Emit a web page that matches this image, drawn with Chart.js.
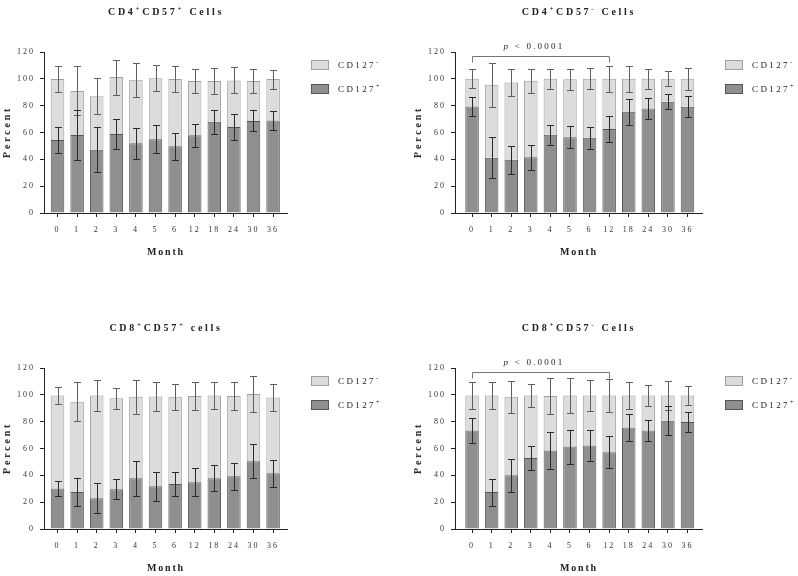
<!DOCTYPE html>
<html><head><meta charset="utf-8">
<script src="https://cdn.jsdelivr.net/npm/chart.js@4/dist/chart.umd.min.js"></script>
<style>
html,body{margin:0;padding:0;background:#fff;}
body{width:798px;height:576px;position:relative;overflow:hidden;font-family:"Liberation Serif",serif;color:#222;}
.panel{position:absolute;width:387px;height:288px;}
.panel canvas{position:absolute;left:0;top:0;}
.t{position:absolute;white-space:nowrap;line-height:1;will-change:transform;}
.title{font-weight:bold;font-size:10px;letter-spacing:2.7px;transform:translate(-50%,-50%);}
.ylab{font-weight:bold;font-size:10px;letter-spacing:2.8px;transform:translate(-50%,-50%) rotate(-90deg);}
.xlab{font-weight:bold;font-size:10px;letter-spacing:1.8px;transform:translate(-50%,-50%);}
.leg{font-size:9px;letter-spacing:2.4px;transform:translateY(-50%);}
.box{position:absolute;width:16px;height:8px;}
.pv{font-size:9px;letter-spacing:2.2px;transform:translate(-50%,-50%);}
sup{font-size:70%;vertical-align:super;line-height:0;}
</style></head>
<body>
<script>
// ---- data ----
const months = ['0','1','2','3','4','5','6','12','18','24','30','36'];
const yTicks = [0,20,40,60,80,100,120];

// CD4+CD57+ Cells
const cd4p_pos    = [54.4,58.1,47.2,58.9,51.9,54.9,49.7,57.9,68.1,64.1,68.6,68.9];
const cd4p_posErr = [9.7,18.6,16.7,11.5,11.5,10.4,9.9,8.8,9.0,9.9,7.8,7.2];
const cd4p_neg    = [45.4,32.9,39.8,42.4,47.4,45.6,50.1,40.4,30.2,34.7,29.7,30.9];
const cd4p_negErr = [9.8,18.3,13.4,13.0,12.5,9.5,9.6,8.8,9.6,9.7,8.8,7.1];

// CD4+CD57- Cells
const cd4n_pos    = [79.4,41.1,39.6,41.6,58.3,56.5,56.0,62.7,75.4,77.9,82.9,79.2];
const cd4n_posErr = [7.2,15.3,10.5,9.4,7.5,8.3,8.0,9.6,9.8,7.8,5.5,7.8];
const cd4n_neg    = [20.6,54.5,57.7,57.0,41.7,43.1,44.0,37.3,24.6,22.1,17.1,20.8];
const cd4n_negErr = [7.2,16.3,10.2,9.0,7.6,8.0,7.8,9.5,9.5,7.5,5.7,8.0];

// CD8+CD57+ cells
const cd8p_pos    = [30.2,27.5,23.0,29.7,37.9,31.9,33.6,34.9,37.9,39.3,50.5,41.6];
const cd8p_posErr = [5.8,10.7,11.4,7.3,13.0,10.8,9.2,10.2,9.8,10.0,12.5,10.0];
const cd8p_neg    = [69.3,67.3,76.5,67.8,60.6,66.8,64.9,64.3,61.6,59.9,50.2,56.4];
const cd8p_negErr = [6.0,14.5,11.4,7.7,12.9,10.9,9.9,10.4,9.9,10.4,13.4,9.9];

// CD8+CD57- Cells
const cd8n_pos    = [73.5,27.5,40.1,52.9,58.6,61.4,62.3,57.2,75.7,73.5,80.7,79.7];
const cd8n_posErr = [9.6,10.0,12.2,9.2,13.6,12.7,11.8,11.9,10.0,7.9,10.8,7.3];
const cd8n_neg    = [26.0,72.0,58.4,46.6,40.6,38.1,37.2,42.3,23.8,26.0,18.8,19.8];
const cd8n_negErr = [9.9,9.9,11.7,8.8,13.7,12.9,11.5,12.0,10.4,7.9,11.0,7.3];

const bracketFrom = 0, bracketTo = 7, bracketY = 117.3, bracketDrop = 4.5;
const pText = 'p';

// ---- layout ----
const panels = [
  {ox:0,   oy:0,   title:'CD4<sup>+</sup>CD57<sup>+</sup> Cells', pos:cd4p_pos, posErr:cd4p_posErr, neg:cd4p_neg, negErr:cd4p_negErr, right:287, xmin:-0.69, xmax:11.71, bracket:false, legX:311},
  {ox:411, oy:0,   title:'CD4<sup>+</sup>CD57<sup>-</sup> Cells', pos:cd4n_pos, posErr:cd4n_posErr, neg:cd4n_neg, negErr:cd4n_negErr, right:291, xmin:-0.87, xmax:11.74, bracket:true, legX:314},
  {ox:0,   oy:316, title:'CD8<sup>+</sup>CD57<sup>+</sup> cells', pos:cd8p_pos, posErr:cd8p_posErr, neg:cd8p_neg, negErr:cd8p_negErr, right:287, xmin:-0.69, xmax:11.71, bracket:false, legX:311},
  {ox:411, oy:316, title:'CD8<sup>+</sup>CD57<sup>-</sup> Cells', pos:cd8n_pos, posErr:cd8n_posErr, neg:cd8n_neg, negErr:cd8n_negErr, right:291, xmin:-0.87, xmax:11.74, bracket:true, legX:314}
];

const DARK='#8f8f8f', DARKB='#555555', LIGHT='#dcdcdc', LIGHTB='#a0a0a0';
const FONT='"Liberation Serif", serif';

function addText(parent, cls, html, x, y){
  const d=document.createElement('div'); d.className='t '+cls; d.innerHTML=html;
  d.style.left=x+'px'; d.style.top=y+'px'; parent.appendChild(d); return d;
}

const spacing = {id:'ls',
  beforeUpdate(c){c.ctx.letterSpacing='2px';},
  beforeDraw(c){c.ctx.letterSpacing='2px';}
};

function errPlugin(p){
  return {id:'err', afterDatasetsDraw(chart){
    const ctx=chart.ctx, ys=chart.scales.y, m0=chart.getDatasetMeta(0);
    ctx.save(); ctx.letterSpacing='0px'; ctx.lineWidth=1;
    const bar=(x,v,e,col)=>{
      const X=Math.round(x)+0.5, t=Math.round(ys.getPixelForValue(v+e))+0.5, b=Math.round(ys.getPixelForValue(v-e))+0.5;
      ctx.strokeStyle=col; ctx.beginPath();
      ctx.moveTo(X,t); ctx.lineTo(X,b);
      ctx.moveTo(X-3.5,t); ctx.lineTo(X+3.5,t);
      ctx.moveTo(X-3.5,b); ctx.lineTo(X+3.5,b);
      ctx.stroke();
    };
    for(let i=0;i<months.length;i++){
      const x=m0.data[i].x;
      bar(x, p.pos[i]+p.neg[i], p.negErr[i], '#5e5e5e');
      bar(x, p.pos[i], p.posErr[i], '#2a2a2a');
    }
    if(p.bracket){
      const xs=chart.scales.x;
      const x1=Math.round(xs.getPixelForValue(bracketFrom))+0.5, x2=Math.round(xs.getPixelForValue(bracketTo))+0.5;
      const yt=Math.round(ys.getPixelForValue(bracketY))+0.5, yb=Math.round(ys.getPixelForValue(bracketY-bracketDrop))+0.5;
      ctx.strokeStyle='#777'; ctx.beginPath();
      ctx.moveTo(x1,yb); ctx.lineTo(x1,yt); ctx.lineTo(x2,yt); ctx.lineTo(x2,yb); ctx.stroke();
    }
    ctx.restore();
  }};
}

panels.forEach(p=>{
  const div=document.createElement('div'); div.className='panel';
  div.style.left=p.ox+'px'; div.style.top=p.oy+'px'; document.body.appendChild(div);
  const cv=document.createElement('canvas'); cv.width=300; cv.height=240;
  cv.style.width='300px'; cv.style.height='240px'; div.appendChild(cv);
  const cx=(44+p.right)/2;
  addText(div,'title',p.title,cx,12);
  addText(div,'ylab','Percent',7,132);
  addText(div,'xlab','Month',cx,252);
  const b1=document.createElement('div'); b1.className='box';
  b1.style.cssText+=`left:${p.legX}px;top:60px;background:${LIGHT};border:1px solid ${LIGHTB};`;
  div.appendChild(b1);
  const b2=document.createElement('div'); b2.className='box';
  b2.style.cssText+=`left:${p.legX}px;top:84px;background:${DARK};border:1px solid ${DARKB};`;
  div.appendChild(b2);
  addText(div,'leg','CD127<sup>-</sup>',p.legX+27,65);
  addText(div,'leg','CD127<sup>+</sup>',p.legX+27,89);
  if(p.bracket) addText(div,'pv','<i>'+pText+'</i> &lt; 0.0001',123,46);

  new Chart(cv,{
    type:'bar',
    data:{datasets:[
      {label:'CD127+', data:p.pos.map((v,i)=>({x:i,y:v})), backgroundColor:DARK, borderColor:DARKB, borderWidth:1, stack:'s', categoryPercentage:1, barPercentage:0.69},
      {label:'CD127-', data:p.neg.map((v,i)=>({x:i,y:v})), backgroundColor:LIGHT, borderColor:LIGHTB, borderWidth:1, stack:'s', categoryPercentage:1, barPercentage:0.69}
    ]},
    options:{
      responsive:false, animation:false, devicePixelRatio:1,
      layout:{padding:{left:0,top:52,right:300-p.right,bottom:0}},
      plugins:{legend:{display:false},tooltip:{enabled:false},title:{display:false}},
      scales:{
        x:{type:'linear', stacked:true, offset:false, min:p.xmin, max:p.xmax,
          afterBuildTicks:s=>{s.ticks=months.map((m,i)=>({value:i}));},
          afterFit:s=>{s.height=240-213;},
          ticks:{callback:(v)=>months[v], autoSkip:false, maxRotation:0, padding:8, color:'#333', font:{family:FONT,size:8}},
          grid:{display:true, offset:false, drawOnChartArea:false, drawTicks:true, tickLength:4, color:'#222', lineWidth:1},
          border:{display:true, color:'#222', width:1}},
        y:{stacked:true, min:0, max:120,
          afterBuildTicks:s=>{s.ticks=yTicks.map(v=>({value:v}));},
          afterFit:s=>{s.width=44;},
          ticks:{padding:5, color:'#333', font:{family:FONT,size:8}},
          grid:{display:true, drawOnChartArea:false, drawTicks:true, tickLength:4, color:'#222', lineWidth:1},
          border:{display:true, color:'#222', width:1}}
      }
    },
    plugins:[spacing, errPlugin(p)]
  });
});
</script>
</body></html>
